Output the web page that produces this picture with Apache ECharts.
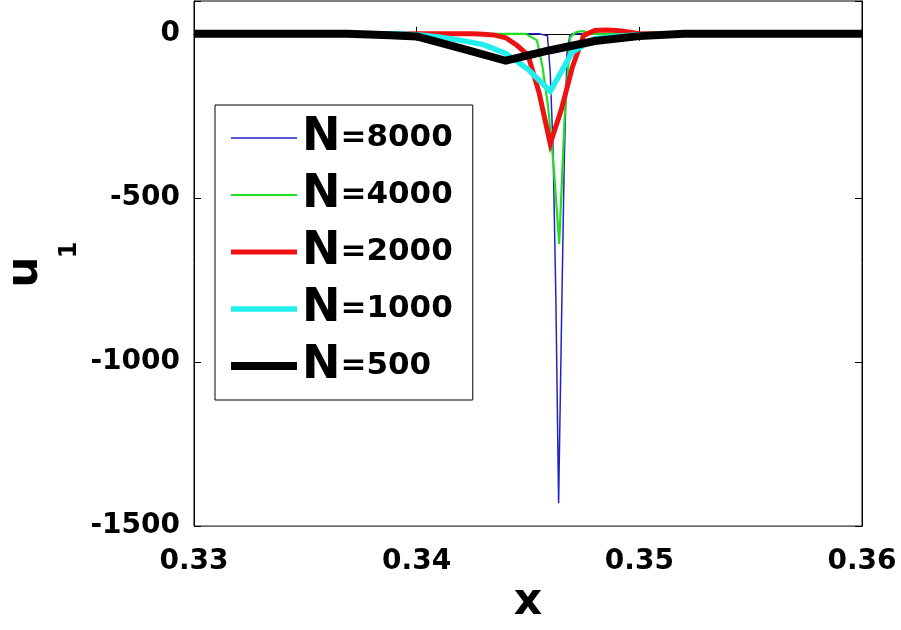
<!DOCTYPE html>
<html>
<head>
<meta charset="utf-8">
<script src="https://cdn.jsdelivr.net/npm/echarts@6/dist/echarts.min.js"></script>
<style>html,body{margin:0;padding:0;background:#fff;}#c{width:901px;height:630px;}</style>
</head>
<body>
<div id="c"></div>
<script>
// ---- data ----
const xTicks = [0.33, 0.34, 0.35, 0.36];
const yTicks = [-1500, -1000, -500, 0];
const seriesNames = ['8000', '4000', '2000', '1000', '500'];

const x8000 = [0.33, 0.3455, 0.345875, 0.346, 0.346125, 0.34625, 0.346375, 0.3465, 0.346625, 0.34675, 0.346875, 0.347, 0.36];
const y8000 = [0, 0, -6, -120, -350, -800, -1430, -900, -400, -60, -5, 0, 0];

const x4000 = [0.33, 0.3449, 0.3454, 0.34565, 0.3459, 0.34615, 0.3464, 0.34665, 0.3469, 0.34715, 0.3474, 0.34765, 0.3479, 0.36];
const y4000 = [0, 0, -20, -100, -220, -400, -640, -250, -10, 5, 8, 5, 0, 0];

const x2000 = [0.33, 0.342, 0.3425, 0.343, 0.3435, 0.344, 0.3445, 0.345, 0.3455, 0.346, 0.3465, 0.347, 0.3475, 0.348, 0.3485, 0.349, 0.3495, 0.35, 0.36];
const y2000 = [0, 0, 0, -1, -4, -12, -35, -65, -180, -335, -230, -100, -5, 10, 12, 10, 6, 0, 0];

const x1000 = [0.33, 0.339, 0.34, 0.341, 0.342, 0.343, 0.344, 0.345, 0.346, 0.347, 0.348, 0.349, 0.35, 0.352, 0.36];
const y1000 = [0, 0, -3, -10, -20, -33, -60, -108, -175, -55, -15, -7, -3, 0, 0];

const x500 = [0.33, 0.3369, 0.3388, 0.34, 0.342, 0.344, 0.346, 0.348, 0.35, 0.352, 0.36];
const y500 = [0, 0, -4, -8, -44, -82, -50, -22, -7, 0, 0];

// ---- build ----
const pairs = (xs, ys) => xs.map((x, i) => [x, ys[i]]);
const FONT = 'DejaVu Sans';
const colors = ['#2222c4', '#22dd22', '#ee1111', '#22eeee', '#000000'];
const widths = [1.5, 2.2, 5, 5.5, 8];
const dataSets = [pairs(x8000, y8000), pairs(x4000, y4000), pairs(x2000, y2000), pairs(x1000, y1000), pairs(x500, y500)];

const chart = echarts.init(document.getElementById('c'));
const axisCommonX = {
  type: 'value', min: xTicks[0], max: xTicks[xTicks.length - 1], interval: 0.01,
  splitLine: { show: false },
  axisLine: { show: true, lineStyle: { color: '#000', width: 1 } },
  axisTick: { show: true, inside: true, length: 7, lineStyle: { color: '#000' } }
};
const axisCommonY = {
  type: 'value', min: yTicks[0], max: 100, interval: 500,
  splitLine: { show: false },
  axisLine: { show: true, lineStyle: { color: '#000', width: 1 } },
  axisTick: { show: true, inside: true, length: 7, lineStyle: { color: '#000' } }
};

chart.setOption({
  backgroundColor: '#fff',
  animation: false,
  grid: { left: 194, right: 39, top: 1, bottom: 102, show: true, borderColor: '#000', borderWidth: 1 },
  xAxis: [
    Object.assign({}, axisCommonX, {
      position: 'bottom',
      name: 'x', nameLocation: 'middle', nameGap: 51,
      nameTextStyle: { fontFamily: FONT, fontWeight: 'bold', fontSize: 44, color: '#000' },
      axisLabel: { show: true, margin: 22, color: '#000', fontFamily: FONT, fontWeight: 'bold', fontSize: 28,
        formatter: v => xTicks.some(t => Math.abs(t - v) < 1e-9) ? v.toFixed(2) : '' }
    }),
    Object.assign({}, axisCommonX, { position: 'top', axisLabel: { show: false } })
  ],
  yAxis: [
    Object.assign({}, axisCommonY, {
      position: 'left',
      axisLabel: { show: true, margin: 14, color: '#000', fontFamily: FONT, fontWeight: 'bold', fontSize: 28,
        formatter: v => yTicks.indexOf(Math.round(v)) >= 0 ? String(Math.round(v)) : '' }
    }),
    Object.assign({}, axisCommonY, { position: 'right', axisLabel: { show: false } })
  ],
  legend: {
    show: true,
    orient: 'vertical', left: 215, top: 105,
    padding: [10, 20, 11, 12],
    itemGap: 11, itemWidth: 66, itemHeight: 20,
    borderColor: '#000', borderWidth: 1, backgroundColor: '#fff',
    lineStyle: { width: 'inherit' },
    itemStyle: { color: 'rgba(0,0,0,0)', borderWidth: 0, opacity: 0 },
    formatter: name => '{n|N}{v|' + name.slice(1) + '}',
    textStyle: {
      rich: {
        n: { fontFamily: FONT, fontWeight: 'bold', fontSize: 46, color: '#000', lineHeight: 46 },
        v: { fontFamily: FONT, fontWeight: 'bold', fontSize: 31, color: '#000', lineHeight: 46 }
      }
    }
  },
  graphic: [
    { type: 'text', x: 26, y: 272, rotation: Math.PI / 2,
      style: { text: 'u', font: 'bold 44px "DejaVu Sans"', fill: '#000', textAlign: 'center', textVerticalAlign: 'middle' } },
    { type: 'text', x: 70, y: 250, rotation: Math.PI / 2,
      style: { text: '1', font: 'bold 24px "DejaVu Sans"', fill: '#000', textAlign: 'center', textVerticalAlign: 'middle' } }
  ],
  series: seriesNames.map((n, i) => ({
    name: 'N=' + n,
    type: 'line',
    xAxisIndex: 0, yAxisIndex: 0,
    symbol: 'none', showSymbol: false,
    color: colors[i],
    lineStyle: { color: colors[i], width: widths[i], join: 'miter' },
    data: dataSets[i]
  }))
});
</script>
</body>
</html>
